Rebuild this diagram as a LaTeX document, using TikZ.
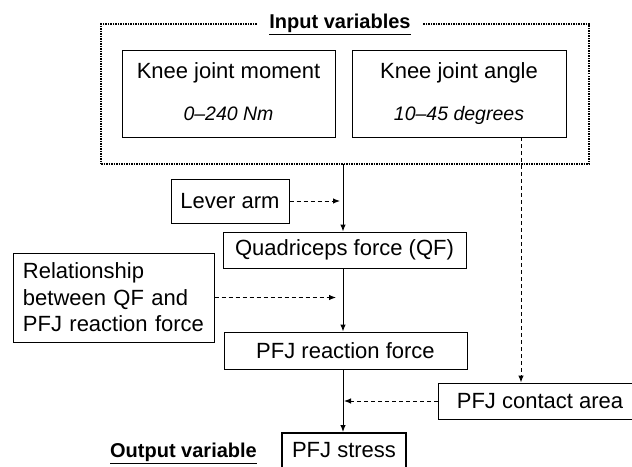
\documentclass[tikz,border=0pt]{standalone}
\usepackage{fontspec}
\setmainfont{Liberation Sans}
\usetikzlibrary{arrows.meta,calc,positioning}

\begin{document}
\begin{tikzpicture}[
  x=1pt,y=-1pt,
  font=\fontsize{22}{25}\selectfont,
  varbox/.style={draw,line width=1pt,inner sep=0pt,align=center},
  framebox/.style={draw,densely dotted,line width=1.5pt,inner sep=0pt},
  heading/.style={font=\fontsize{20}{24}\selectfont\bfseries,inner sep=0pt},
  flow/.style={-{Latex[length=7pt,width=5.5pt]},line width=1pt},
  dflow/.style={-{Latex[length=7pt,width=5.5pt]},line width=1pt,dash pattern=on 4pt off 3pt},
]
  \useasboundingbox (0,0) rectangle (632,466);

  % input variables
  \node[framebox,minimum width=488,minimum height=140] (inputs) at (345,94) {};
  \node[heading,fill=white,inner xsep=11pt,inner ysep=2pt] (intitle) at (340,24) {\underline{Input variables}};
  \node[varbox,minimum width=213,minimum height=87] (moment) at (228.5,94)
    {Knee joint moment\vphantom{g}\\[17pt]\fontsize{19.5}{22}\selectfont\itshape 0--240 Nm\vphantom{g}};
  \node[varbox,minimum width=214,minimum height=87] (angle) at (459,94)
    {Knee joint angle\\[17pt]\fontsize{19.5}{22}\selectfont\itshape 10--45 degrees};

  % model steps
  \node[varbox,minimum width=118,minimum height=44] (lever) at (230,201) {Lever arm};
  \node[varbox,minimum width=243,minimum height=36] (qf) at (344.5,250) {Quadriceps force (QF)};
  \node[varbox,font=\fontsize{22}{26.5}\selectfont,minimum width=201,minimum height=89,align=left,text width=181] (relation) at (113.5,297.5)
    {Relationship\\between QF and\\PFJ reaction force};
  \node[varbox,minimum width=243,minimum height=37] (reaction) at (345.5,350.5) {PFJ reaction force};
  \node[varbox,minimum width=204,minimum height=36] (contact) at (540,401) {PFJ contact area};

  % output variable
  \node[varbox,line width=2pt,minimum width=124,minimum height=35] (stress) at (344,450.5) {PFJ stress};
  \node[heading] (outtitle) at (183.5,453) {\underline{Output variable}};

  \coordinate (spine) at (343,164);
  \coordinate (angledrop) at (521,137);

  \draw[flow] (spine) -- (spine |- qf.north);
  \draw[flow] (spine |- qf.south) -- (spine |- reaction.north);
  \draw[flow] (spine |- reaction.south) -- (spine |- stress.north);

  \draw[dflow,shorten >=3pt] (lever.east) -- (lever.east -| spine);
  \draw[dflow,shorten >=7pt] (relation.east) -- (relation.east -| spine);
  \draw[dflow,shorten >=1pt] (contact.west) -- (contact.west -| spine);
  \draw[dflow] (angledrop) -- (angledrop |- contact.north);
\end{tikzpicture}
\end{document}
